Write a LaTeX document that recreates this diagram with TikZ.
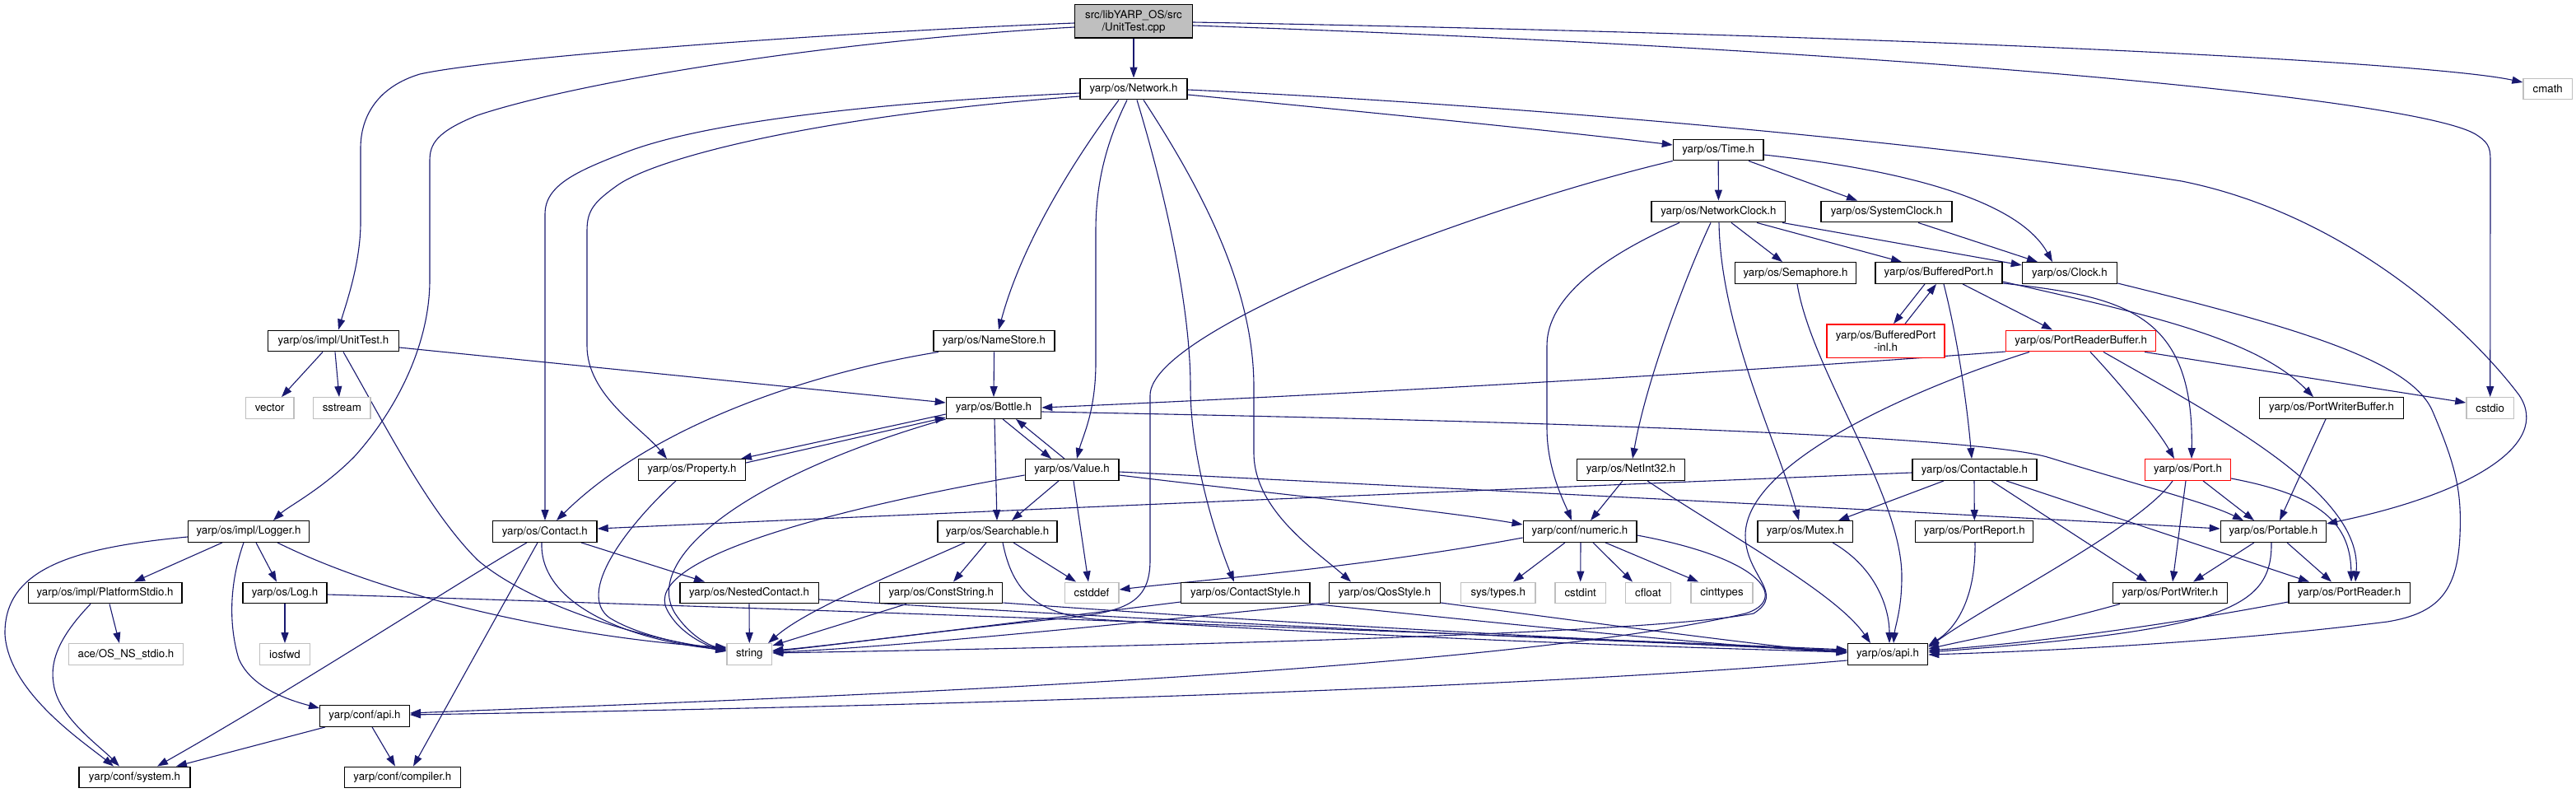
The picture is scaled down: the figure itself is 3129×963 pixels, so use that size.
\documentclass[tikz,border=0pt]{standalone}
\usepackage{fontspec}
\setmainfont{TeX Gyre Heros}
\usetikzlibrary{arrows.meta}
\definecolor{edgec}{HTML}{191970}
\definecolor{extc}{HTML}{BFBFBF}
\pgfdeclarelayer{bg}
\pgfsetlayers{bg,main}
\tikzset{
  nb/.style={draw=black, line width=1.3pt, fill=white, minimum height=25.6pt, inner sep=0pt,
    font=\fontsize{13.3}{15}\selectfont, text=black, align=center},
  ext/.style={nb, draw=extc},
  trunc/.style={nb, draw=red},
  root/.style={nb, fill=extc},
  wd/.style={minimum width=#1pt},
  dep/.style={draw=edgec, line width=1.1pt, -{Triangle[length=13pt,width=9pt]}},
}
\begin{document}
\begin{tikzpicture}[x=1pt, y=-1pt]
\useasboundingbox (0,0) rectangle (3129,963);
% nodes
\node[root, wd=143, minimum height=40.3pt] (cpp) at (1377,26) {src/libYARP\_OS/src\\/UnitTest.cpp};
\node[nb, wd=130] (net) at (1377,108) {yarp/os/Network.h};
\node[ext, wd=59.4] (cmath) at (3094.7,108) {cmath};
\node[nb, wd=109.6] (time) at (2087.2,182) {yarp/os/Time.h};
\node[nb, wd=162.7] (nclock) at (2087.4,257) {yarp/os/NetworkClock.h};
\node[nb, wd=159] (sclock) at (2291.5,257) {yarp/os/SystemClock.h};
\node[nb, wd=147] (sem) at (2181,331.5) {yarp/os/Semaphore.h};
\node[nb, wd=154] (bport) at (2355,331.5) {yarp/os/BufferedPort.h};
\node[nb, wd=115.3] (clock) at (2514,331.5) {yarp/os/Clock.h};
\node[nb, wd=159] (unittest) at (405,414) {yarp/os/impl/UnitTest.h};
\node[nb, wd=147] (namestore) at (1207.5,414) {yarp/os/NameStore.h};
\node[trunc, wd=143, minimum height=40.3pt] (bportinl) at (2290.5,414) {yarp/os/BufferedPort\\-inl.h};
\node[trunc, wd=182.2] (prbuf) at (2527.7,414) {yarp/os/PortReaderBuffer.h};
\node[ext, wd=58.5] (vector) at (327.7,495.5) {vector};
\node[ext, wd=69.4] (sstream) at (415.3,495.5) {sstream};
\node[nb, wd=115.3] (bottle) at (1207,495.5) {yarp/os/Bottle.h};
\node[nb, wd=175.5] (pwbuf) at (2832,495.5) {yarp/os/PortWriterBuffer.h};
\node[ext, wd=57.7] (cstdio) at (3024.7,495.5) {cstdio};
\node[nb, wd=130] (property) at (840.5,570.5) {yarp/os/Property.h};
\node[nb, wd=113.7] (value) at (1302,570.5) {yarp/os/Value.h};
\node[nb, wd=130.6] (netint) at (1981,570.5) {yarp/os/NetInt32.h};
\node[nb, wd=151] (contactable) at (2398.4,570.5) {yarp/os/Contactable.h};
\node[trunc, wd=104] (port) at (2657.5,570.5) {yarp/os/Port.h};
\node[nb, wd=147] (logger) at (302,645.5) {yarp/os/impl/Logger.h};
\node[nb, wd=126.5] (contact) at (661.8,645.5) {yarp/os/Contact.h};
\node[nb, wd=145] (searchable) at (1211.5,645.5) {yarp/os/Searchable.h};
\node[nb, wd=137.7] (numeric) at (1919,645.5) {yarp/conf/numeric.h};
\node[nb, wd=115.3] (mutex) at (2192.7,645.5) {yarp/os/Mutex.h};
\node[nb, wd=143] (portreport) at (2398.3,645.5) {yarp/os/PortReport.h};
\node[nb, wd=128] (portable) at (2761.4,645.5) {yarp/os/Portable.h};
\node[nb, wd=186.8] (pstdio) at (127.6,720) {yarp/os/impl/PlatformStdio.h};
\node[nb, wd=102] (log) at (346,720) {yarp/os/Log.h};
\node[nb, wd=168.3] (nested) at (910,720) {yarp/os/NestedContact.h};
\node[nb, wd=149] (cstring) at (1143.3,720) {yarp/os/ConstString.h};
\node[ext, wd=65.7] (cstddef) at (1326,720) {cstddef};
\node[nb, wd=156.4] (cstyle) at (1512.8,720) {yarp/os/ContactStyle.h};
\node[nb, wd=134.7] (qos) at (1682,720) {yarp/os/QosStyle.h};
\node[ext, wd=90.7] (systypes) at (1819.7,720) {sys/types.h};
\node[ext, wd=61.3] (cstdint) at (1919.7,720) {cstdint};
\node[ext, wd=54.6] (cfloat) at (2002,720) {cfloat};
\node[ext, wd=75] (cinttypes) at (2091.5,720) {cinttypes};
\node[nb, wd=139.3] (pwriter) at (2636,720) {yarp/os/PortWriter.h};
\node[nb, wd=147.5] (preader) at (2853.7,720) {yarp/os/PortReader.h};
\node[ext, wd=138.7] (acestdio) at (153,794.5) {ace/OS\_NS\_stdio.h};
\node[ext, wd=60.7] (iosfwd) at (346,794.5) {iosfwd};
\node[ext, wd=54.7] (string) at (910.3,794.5) {string};
\node[nb, wd=97.4] (osapi) at (2293,794.5) {yarp/os/api.h};
\node[nb, wd=108.6] (confapi) at (443,869.5) {yarp/conf/api.h};
\node[nb, wd=135] (system) at (163.5,944) {yarp/conf/system.h};
\node[nb, wd=140.8] (compiler) at (488.8,944) {yarp/conf/compiler.h};

\begin{pgfonlayer}{bg}
\fill[white] (0,0) rectangle (3129,963);
% UnitTest.cpp
\draw[dep] (cpp.south) -- (net.north);
\draw[dep] (cpp.west |- 0,28) .. controls (1000,40) and (600,70) .. (510,90) .. controls (460,105) and (438,140) .. (438,180) -- (438,270) .. controls (438,320) and (420,370) .. (411,0 |- unittest.north);
\draw[dep] (cpp.west |- 0,33) .. controls (1000,50) and (700,100) .. (580,140) .. controls (530,160) and (522,175) .. (522,195) -- (522,340) .. controls (522,420) and (480,500) .. (430,555) .. controls (390,595) and (350,615) .. (332,0 |- logger.north);
\draw[dep] (cpp.east |- 0,27) .. controls (2300,42) and (2950,75) .. (cmath.west |- 0,100);
\draw[dep] (cpp.east |- 0,31) .. controls (2300,60) and (2950,120) .. (3010,165) .. controls (3025,175) and (3025,182) .. (3025,200) -- (cstdio.north);
% Network.h
\draw[dep] (net.west |- 0,113) .. controls (1050,125) and (850,150) .. (760,185) .. controls (700,208) and (662,225) .. (662,260) -- (662,0 |- contact.north);
\draw[dep] (net.west |- 0,117) .. controls (1000,140) and (800,190) .. (750,225) .. controls (722,245) and (713,255) .. (713,280) -- (713,420) .. controls (713,480) and (780,520) .. (810,0 |- property.north);
\draw[dep] (1359,0 |- net.south) .. controls (1300,200) and (1240,300) .. (1213,0 |- namestore.north);
\draw[dep] (1369,0 |- net.south) .. controls (1345,170) and (1331,220) .. (1331,280) -- (1331,440) .. controls (1331,500) and (1315,530) .. (1308,0 |- value.north);
\draw[dep] (1381,0 |- net.south) .. controls (1420,250) and (1446,380) .. (1446,470) .. controls (1446,560) and (1480,660) .. (1499,0 |- cstyle.north);
\draw[dep] (1389,0 |- net.south) .. controls (1460,230) and (1523,350) .. (1523,470) -- (1523,550) .. controls (1523,620) and (1600,670) .. (1641,0 |- qos.north);
\draw[dep] (net.east |- 0,115) .. controls (1700,140) and (1900,160) .. (time.west |- 0,176);
\draw[dep] (net.east |- 0,109) .. controls (1900,130) and (2400,180) .. (2650,220) .. controls (2850,260) and (3000,400) .. (3060,480) .. controls (3100,540) and (3000,600) .. (portable.east |- 0,636);
% Time.h
\draw[dep] (time.south) -- (nclock.north);
\draw[dep] (2124,0 |- time.south) -- (2256,0 |- sclock.north);
\draw[dep] (time.east |- 0,188) .. controls (2300,205) and (2450,240) .. (2493,0 |- clock.north);
\draw[dep] (time.south west) .. controls (1800,250) and (1397,400) .. (1397,480) -- (1397,680) .. controls (1397,730) and (1370,742) .. (1300,750) .. controls (1150,765) and (1000,785) .. (string.east |- 0,791);
% NetworkClock.h
\draw[dep] (2040,0 |- nclock.south) .. controls (1950,310) and (1879,360) .. (1879,420) -- (1879,520) .. controls (1879,570) and (1900,610) .. (1909,0 |- numeric.north);
\draw[dep] (2078,0 |- nclock.south) .. controls (2050,330) and (2000,460) .. (1983,0 |- netint.north);
\draw[dep] (2088,0 |- nclock.south) .. controls (2090,400) and (2160,540) .. (2185,0 |- mutex.north);
\draw[dep] (2103,0 |- nclock.south) -- (2165,0 |- sem.north);
\draw[dep] (2134,0 |- nclock.south) -- (2310,0 |- bport.north);
\draw[dep] (2165,0 |- nclock.south) -- (clock.west |- 0,322);
\draw[dep] (2330,0 |- sclock.south) -- (2475,0 |- clock.north);
% Semaphore.h
\draw[dep] (2183,0 |- sem.south) .. controls (2200,450) and (2310,600) .. (2310,700) .. controls (2310,740) and (2302,760) .. (2300,0 |- osapi.north);
% BufferedPort.h
\draw[dep] (2338,0 |- bport.south) -- (2300,0 |- bportinl.north);
\draw[dep] (2314,0 |- bportinl.north) -- (2352,0 |- bport.south);
\draw[dep] (2384,0 |- bport.south) -- (2493,0 |- prbuf.north);
\draw[dep] (2361,0 |- bport.south) .. controls (2380,420) and (2390,500) .. (2395,0 |- contactable.north);
\draw[dep] (bport.east |- 0,344) .. controls (2580,360) and (2665,380) .. (2662,0 |- port.north);
\draw[dep] (bport.east |- 0,342) .. controls (2600,380) and (2740,410) .. (2810,0 |- pwbuf.north);
% Clock.h
\draw[dep] (clock.east |- 0,344) .. controls (2800,400) and (2930,440) .. (2955,500) .. controls (2985,570) and (2990,600) .. (2988,650) .. controls (2985,720) and (2960,745) .. (2900,755) .. controls (2700,780) and (2500,790) .. (osapi.east |- 0,795);
% UnitTest.h
\draw[dep] (392,0 |- unittest.south) -- (342,0 |- vector.north);
\draw[dep] (407,0 |- unittest.south) -- (412,0 |- sstream.north);
\draw[dep] (417,0 |- unittest.south) .. controls (470,520) and (520,620) .. (580,680) .. controls (650,740) and (800,780) .. (string.west |- 0,788);
\draw[dep] (unittest.east |- 0,422) -- (bottle.west |- 0,489);
% NameStore.h
\draw[dep] (namestore.south) -- (bottle.north);
\draw[dep] (1140,0 |- namestore.south) .. controls (1000,450) and (800,510) .. (676,0 |- contact.north);
% PortReaderBuffer.h
\draw[dep] (prbuf.west |- 0,427) .. controls (2000,460) and (1500,485) .. (bottle.east |- 0,495);
\draw[dep] (2465,0 |- prbuf.south) .. controls (2330,470) and (2120,560) .. (2120,650) .. controls (2120,700) and (2170,720) .. (2130,745) .. controls (2000,770) and (1400,785) .. (string.east |- 0,793);
\draw[dep] (2539,0 |- prbuf.south) .. controls (2570,460) and (2620,520) .. (2641,0 |- port.north);
\draw[dep] (2555,0 |- prbuf.south) .. controls (2700,510) and (2870,600) .. (2861,0 |- preader.north);
\draw[dep] (2605,0 |- prbuf.south) -- (cstdio.west |- 0,489);
% PortWriterBuffer.h
\draw[dep] (2825,0 |- pwbuf.south) -- (2769,0 |- portable.north);
% Bottle.h
\draw[dep] (bottle.west |- 0,503) -- (900,0 |- property.north);
\draw[dep] (property.east |- 0,562) -- (bottle.west |- 0,507);
\draw[dep] (1218,0 |- bottle.south) -- (1277,0 |- value.north);
\draw[dep] (1293,0 |- value.north) -- (1234,0 |- bottle.south);
\draw[dep] (1208,0 |- bottle.south) -- (1211,0 |- searchable.north);
\draw[dep] (bottle.south west) .. controls (900,580) and (780,680) .. (820,745) .. controls (840,775) and (865,785) .. (string.west |- 0,787);
\draw[dep] (bottle.east |- 0,500) .. controls (1800,510) and (2400,527) .. (2490,556) .. controls (2600,590) and (2680,610) .. (2725,0 |- portable.north);
% Property.h
\draw[dep] (821,0 |- property.south) .. controls (760,640) and (700,720) .. (740,750) .. controls (780,775) and (850,785) .. (string.west |- 0,791);
% Value.h
\draw[dep] (1286,0 |- value.south) -- (1229,0 |- searchable.north);
\draw[dep] (1304,0 |- value.south) -- (1322,0 |- cstddef.north);
\draw[dep] (value.west |- 0,577) .. controls (1000,620) and (780,680) .. (810,740) .. controls (825,770) and (860,785) .. (string.west |- 0,790);
\draw[dep] (value.east |- 0,573) .. controls (1800,595) and (2300,620) .. (portable.west |- 0,642);
\draw[dep] (value.east |- 0,577) .. controls (1550,600) and (1750,620) .. (numeric.west |- 0,637);
% NetInt32.h
\draw[dep] (1971,0 |- netint.south) -- (1932,0 |- numeric.north);
\draw[dep] (2001,0 |- netint.south) .. controls (2100,650) and (2230,720) .. (2272,0 |- osapi.north);
% Contactable.h
\draw[dep] (contactable.west |- 0,574) .. controls (1800,595) and (1100,625) .. (contact.east |- 0,642);
\draw[dep] (2361,0 |- contactable.south) -- (2233,0 |- mutex.north);
\draw[dep] (2398,0 |- contactable.south) -- (portreport.north);
\draw[dep] (2419,0 |- contactable.south) -- (2608,0 |- pwriter.north);
\draw[dep] (2437,0 |- contactable.south) -- (2805,0 |- preader.north);
% Port.h
\draw[dep] (2639,0 |- port.south) .. controls (2600,640) and (2420,730) .. (osapi.east |- 0,786);
\draw[dep] (2655,0 |- port.south) -- (2639,0 |- pwriter.north);
\draw[dep] (2676,0 |- port.south) -- (2738,0 |- portable.north);
\draw[dep] (port.east |- 0,581) .. controls (2810,600) and (2855,630) .. (2856,0 |- preader.north);
% Logger.h
\draw[dep] (270,0 |- logger.south) -- (163,0 |- pstdio.north);
\draw[dep] (311,0 |- logger.south) -- (336,0 |- log.north);
\draw[dep] (296,0 |- logger.south) .. controls (278,710) and (278,760) .. (290,800) .. controls (305,835) and (350,850) .. (confapi.west |- 0,860);
\draw[dep] (337,0 |- logger.south) .. controls (500,740) and (750,780) .. (string.west |- 0,786);
\draw[dep] (logger.west |- 0,652) .. controls (90,665) and (5,690) .. (6,770) .. controls (10,840) and (100,900) .. (138,0 |- system.north);
% Contact.h
\draw[dep] (640,0 |- contact.south) .. controls (560,705) and (360,835) .. (191,0 |- system.north);
\draw[dep] (653,0 |- contact.south) -- (502,0 |- compiler.north);
\draw[dep] (658,0 |- contact.south) .. controls (655,740) and (780,780) .. (string.west |- 0,789);
\draw[dep] (706,0 |- contact.south) -- (856,0 |- nested.north);
% Searchable.h
\draw[dep] (1172,0 |- searchable.south) .. controls (1080,700) and (980,740) .. (933,0 |- string.north);
\draw[dep] (1198,0 |- searchable.south) -- (1158,0 |- cstring.north);
\draw[dep] (1231,0 |- searchable.south) -- (1307,0 |- cstddef.north);
\draw[dep] (1218,0 |- searchable.south) .. controls (1230,720) and (1260,745) .. (1330,752) .. controls (1700,775) and (2000,785) .. (osapi.west |- 0,792);
% numeric.h
\draw[dep] (1901,0 |- numeric.south) -- (1838,0 |- systypes.north);
\draw[dep] (1920,0 |- numeric.south) -- (cstdint.north);
\draw[dep] (1935,0 |- numeric.south) -- (1983,0 |- cfloat.north);
\draw[dep] (1950,0 |- numeric.south) -- (2063,0 |- cinttypes.north);
\draw[dep] (numeric.west |- 0,653) .. controls (1650,690) and (1450,705) .. (cstddef.east |- 0,716);
\draw[dep] (numeric.east |- 0,650) .. controls (2150,680) and (2170,730) .. (2120,745) .. controls (1800,820) and (900,850) .. (confapi.east |- 0,866);
% Mutex.h, PortReport.h
\draw[dep] (2226,0 |- mutex.south) .. controls (2280,690) and (2295,740) .. (2295,0 |- osapi.north);
\draw[dep] (2399,0 |- portreport.south) .. controls (2400,720) and (2380,760) .. (osapi.east |- 0,784);
% Portable.h
\draw[dep] (2738,0 |- portable.south) -- (2664,0 |- pwriter.north);
\draw[dep] (2778,0 |- portable.south) -- (2832,0 |- preader.north);
\draw[dep] (2759,0 |- portable.south) .. controls (2760,740) and (2700,765) .. (osapi.east |- 0,792);
% PlatformStdio.h, Log.h
\draw[dep] (133,0 |- pstdio.south) -- (145,0 |- acestdio.north);
\draw[dep] (110,0 |- pstdio.south) .. controls (75,770) and (60,800) .. (65,830) .. controls (70,870) and (120,905) .. (145,0 |- system.north);
\draw[dep] (log.south) -- (iosfwd.north);
\draw[dep] (log.east |- 0,722) .. controls (1000,740) and (1800,770) .. (osapi.west |- 0,789);
% row 9 to api / string
\draw[dep] (nested.south) -- (string.north);
\draw[dep] (nested.east |- 0,728) .. controls (1500,760) and (2000,780) .. (osapi.west |- 0,790);
\draw[dep] (1101,0 |- cstring.south) -- (string.east |- 0,784);
\draw[dep] (cstring.east |- 0,732) .. controls (1600,760) and (2000,780) .. (osapi.west |- 0,791);
\draw[dep] (cstyle.west |- 0,731) .. controls (1200,760) and (1000,785) .. (string.east |- 0,790);
\draw[dep] (cstyle.east |- 0,733) .. controls (1900,765) and (2100,785) .. (osapi.west |- 0,792);
\draw[dep] (qos.west |- 0,732) .. controls (1300,765) and (1050,788) .. (string.east |- 0,792);
\draw[dep] (qos.east |- 0,732) .. controls (2000,765) and (2150,785) .. (osapi.west |- 0,793);
\draw[dep] (2575,0 |- pwriter.south) .. controls (2480,760) and (2400,775) .. (osapi.east |- 0,788);
\draw[dep] (preader.west |- 0,731) .. controls (2600,765) and (2450,782) .. (osapi.east |- 0,790);
% api
\draw[dep] (osapi.west |- 0,802) .. controls (1800,840) and (1000,860) .. (confapi.east |- 0,868);
\draw[dep] (395,0 |- confapi.south) -- (214,0 |- system.north);
\draw[dep] (452,0 |- confapi.south) -- (480,0 |- compiler.north);
\end{pgfonlayer}
\end{tikzpicture}
\end{document}
